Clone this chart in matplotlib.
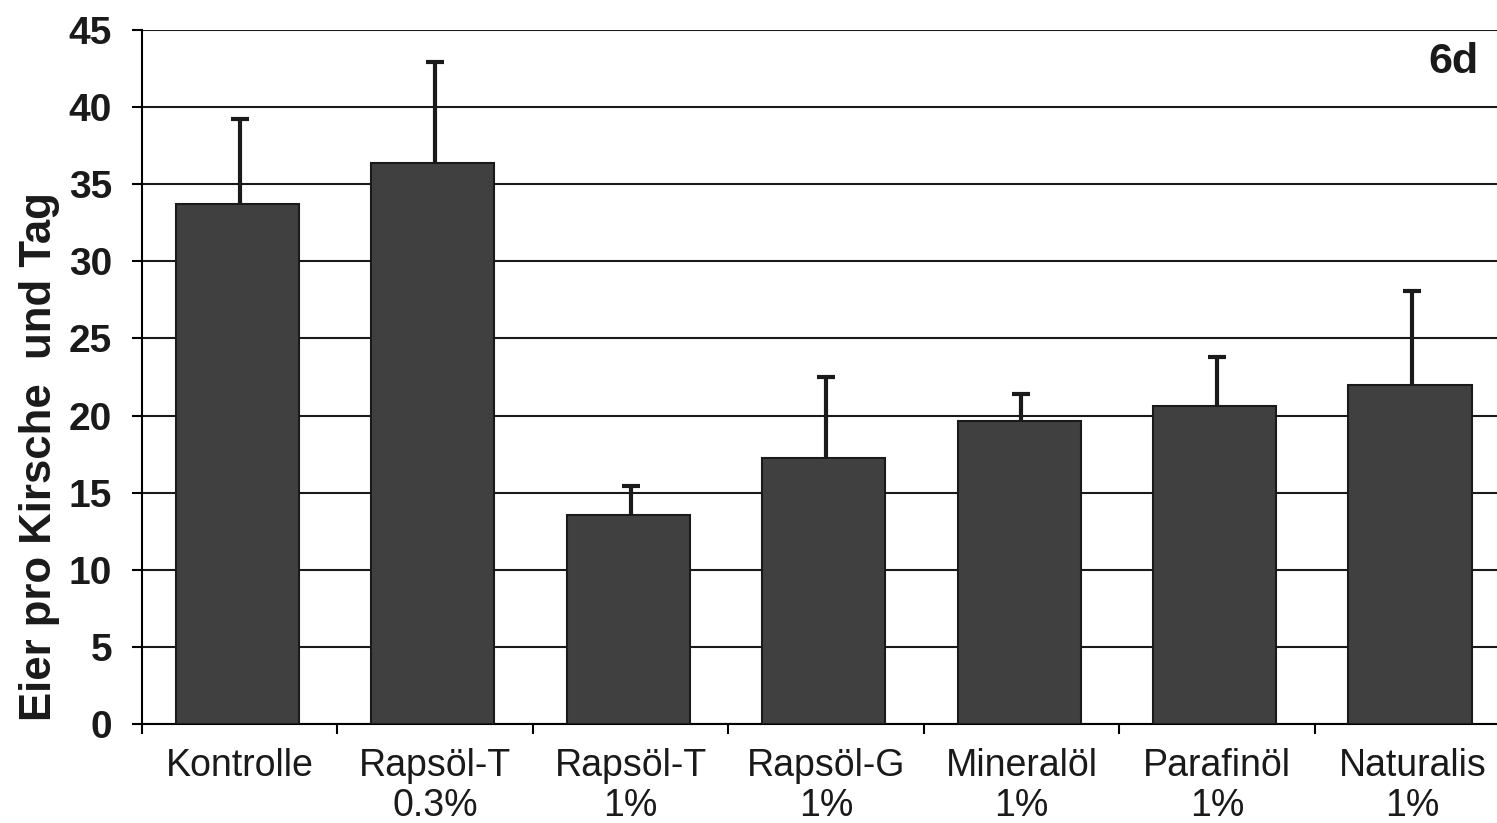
import numpy as np
import matplotlib.pyplot as plt

plt.rcParams['font.family'] = ['Liberation Sans', 'DejaVu Sans']

# Daten
labels = ['Kontrolle', 'Rapsöl-T\n0.3%', 'Rapsöl-T\n1%', 'Rapsöl-G\n1%',
          'Mineralöl\n1%', 'Parafinöl\n1%', 'Naturalis\n1%']
means = [33.7, 36.4, 13.55, 17.25, 19.65, 20.6, 22.0]
err_top = [39.2, 42.9, 15.4, 22.5, 21.4, 23.8, 28.1]

fig = plt.figure(figsize=(14.97, 8.23), dpi=100)
# rechter Rand liegt ausserhalb des Bildes (Original ist abgeschnitten)
ax = fig.add_axes([142 / 1497, 99 / 823, (1510 - 142) / 1497, 694 / 823])

x = np.arange(len(labels))
ax.bar(x - 0.012, means, width=0.63, color='#404040', edgecolor='#1a1a1a', linewidth=1.5, zorder=3)
# Fehlerbalken nur nach oben
ax.vlines(x, means, err_top, color='#1a1a1a', linewidth=3, zorder=2)
ax.hlines(err_top, x - 0.046, x + 0.046, color='#1a1a1a', linewidth=3, zorder=2)

ax.set_xlim(-0.5, len(labels) - 0.5)
ax.set_ylim(0, 45)
ax.set_yticks(np.arange(0, 46, 5))
ax.yaxis.grid(True, color='#1a1a1a', linewidth=1.5, zorder=0)
ax.set_axisbelow(True)

for s in ['top', 'right']:
    ax.spines[s].set_visible(False)
ax.spines['left'].set_linewidth(1.5)
ax.spines['bottom'].set_linewidth(1.5)

ax.set_xticks(x)
ax.set_xticklabels(labels, fontsize=27, color='#1a1a1a', linespacing=1.15)
ax.set_xticks(np.arange(-0.5, len(labels), 1), minor=True)
ax.tick_params(axis='x', which='major', length=0, pad=17)
ax.tick_params(axis='x', which='minor', length=7, width=1.5, direction='out')
ax.tick_params(axis='y', length=7, width=1.5, direction='out', pad=14.5)
for t in ax.get_yticklabels():
    t.set_fontsize(28)
    t.set_fontweight('bold')
    t.set_color('#1a1a1a')

ax.set_ylabel('Eier pro Kirsche  und Tag', fontsize=31.5, fontweight='bold', color='#1a1a1a')
ax.yaxis.set_label_coords(-0.060, 0.385)
ax.text(6.34, 42.9, '6d', fontsize=31, fontweight='bold', ha='right', va='center', color='#1a1a1a')

fig.savefig('out.png', dpi=100)
